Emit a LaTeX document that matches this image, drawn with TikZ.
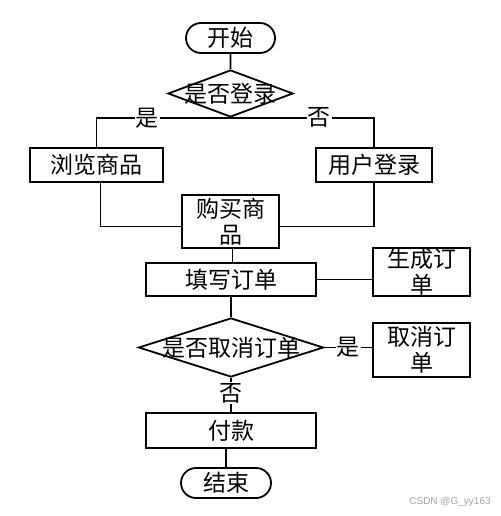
\documentclass[tikz,border=0pt]{standalone}
\usepackage{fontspec}
\setmainfont{Noto Sans CJK SC}
\newfontfamily\wmfont{Liberation Sans}
\usetikzlibrary{shapes.geometric,shapes.misc}
\begin{document}
\begin{tikzpicture}[x=1pt,y=-1pt,
  every node/.style={font=\fontsize{23}{26}\selectfont, inner sep=0pt},
  proc/.style={draw, line width=1.8pt, fill=white, align=center},
  term/.style={draw, line width=1.8pt, rounded rectangle, minimum width=90pt, minimum height=30pt},
  dec/.style={draw, line width=1.8pt, diamond, aspect=2},
  lab/.style={fill=white, inner sep=1pt},
  conn/.style={line width=1.8pt}]
\useasboundingbox (0,0) rectangle (500,516);
\fill[white] (0,0) rectangle (500,516);
% nodes
\node[term, minimum width=89pt] (start) at (230.5,38) {开始};
\node[dec, minimum width=125pt, minimum height=47pt] (d1) at (230.5,93.5) {};
\node (d1t) at (d1.center) {是否登录};
\node[proc, minimum width=133pt, minimum height=34pt] (browse) at (96.5,165) {浏览商品};
\node[proc, minimum width=116pt, minimum height=34pt] (login) at (374,165) {用户登录};
\node[proc, minimum width=97pt, minimum height=53pt] (buy) at (230.5,221.5) {购买商\\品};
\node[proc, minimum width=170pt, minimum height=33pt] (fill) at (231,279.5) {填写订单};
\node[proc, minimum width=97pt, minimum height=48pt] (gen) at (421.5,272) {生成订\\单};
\node[dec, minimum width=185pt, minimum height=59pt] (d2) at (231,347.5) {};
\node (d2t) at (d2.center) {是否取消订单};
\node[proc, minimum width=97pt, minimum height=54pt] (cancel) at (421.5,350) {取消订\\单};
\node[proc, minimum width=170pt, minimum height=35pt] (pay) at (231,430.5) {付款};
\node[term] (end) at (226,483) {结束};
% connectors
\draw[conn] (start) -- (d1);
\draw[conn] (d1.south) -| node[lab, pos=0.31] {是} (browse.north);
\draw[conn] (d1.south) -| node[lab, pos=0.31] {否} (login.north);
\draw[conn] ([xshift=4pt]browse.south) |- ([yshift=-5pt]buy.west);
\draw[conn] (login.south) |- ([yshift=-5pt]buy.east);
\draw[conn] ([xshift=2pt]buy.south) -- ([xshift=2pt]buy.south |- fill.north);
\draw[conn] (fill.east) -- (fill.east -| gen.west);
\draw[conn] (fill.south) -- (d2.north);
\draw[conn] (d2.east) -- node[lab] {是} (d2.east -| cancel.west);
\draw[conn] (d2.south) -- node[lab, pos=0.45] {否} (pay.north);
\draw[conn] (end.north |- pay.south) -- (end.north);
\node[font=\wmfont\fontsize{10}{12}\selectfont, text=gray!70] (wm) at (450,502) {CSDN @G\_yy163};
\end{tikzpicture}
\end{document}
